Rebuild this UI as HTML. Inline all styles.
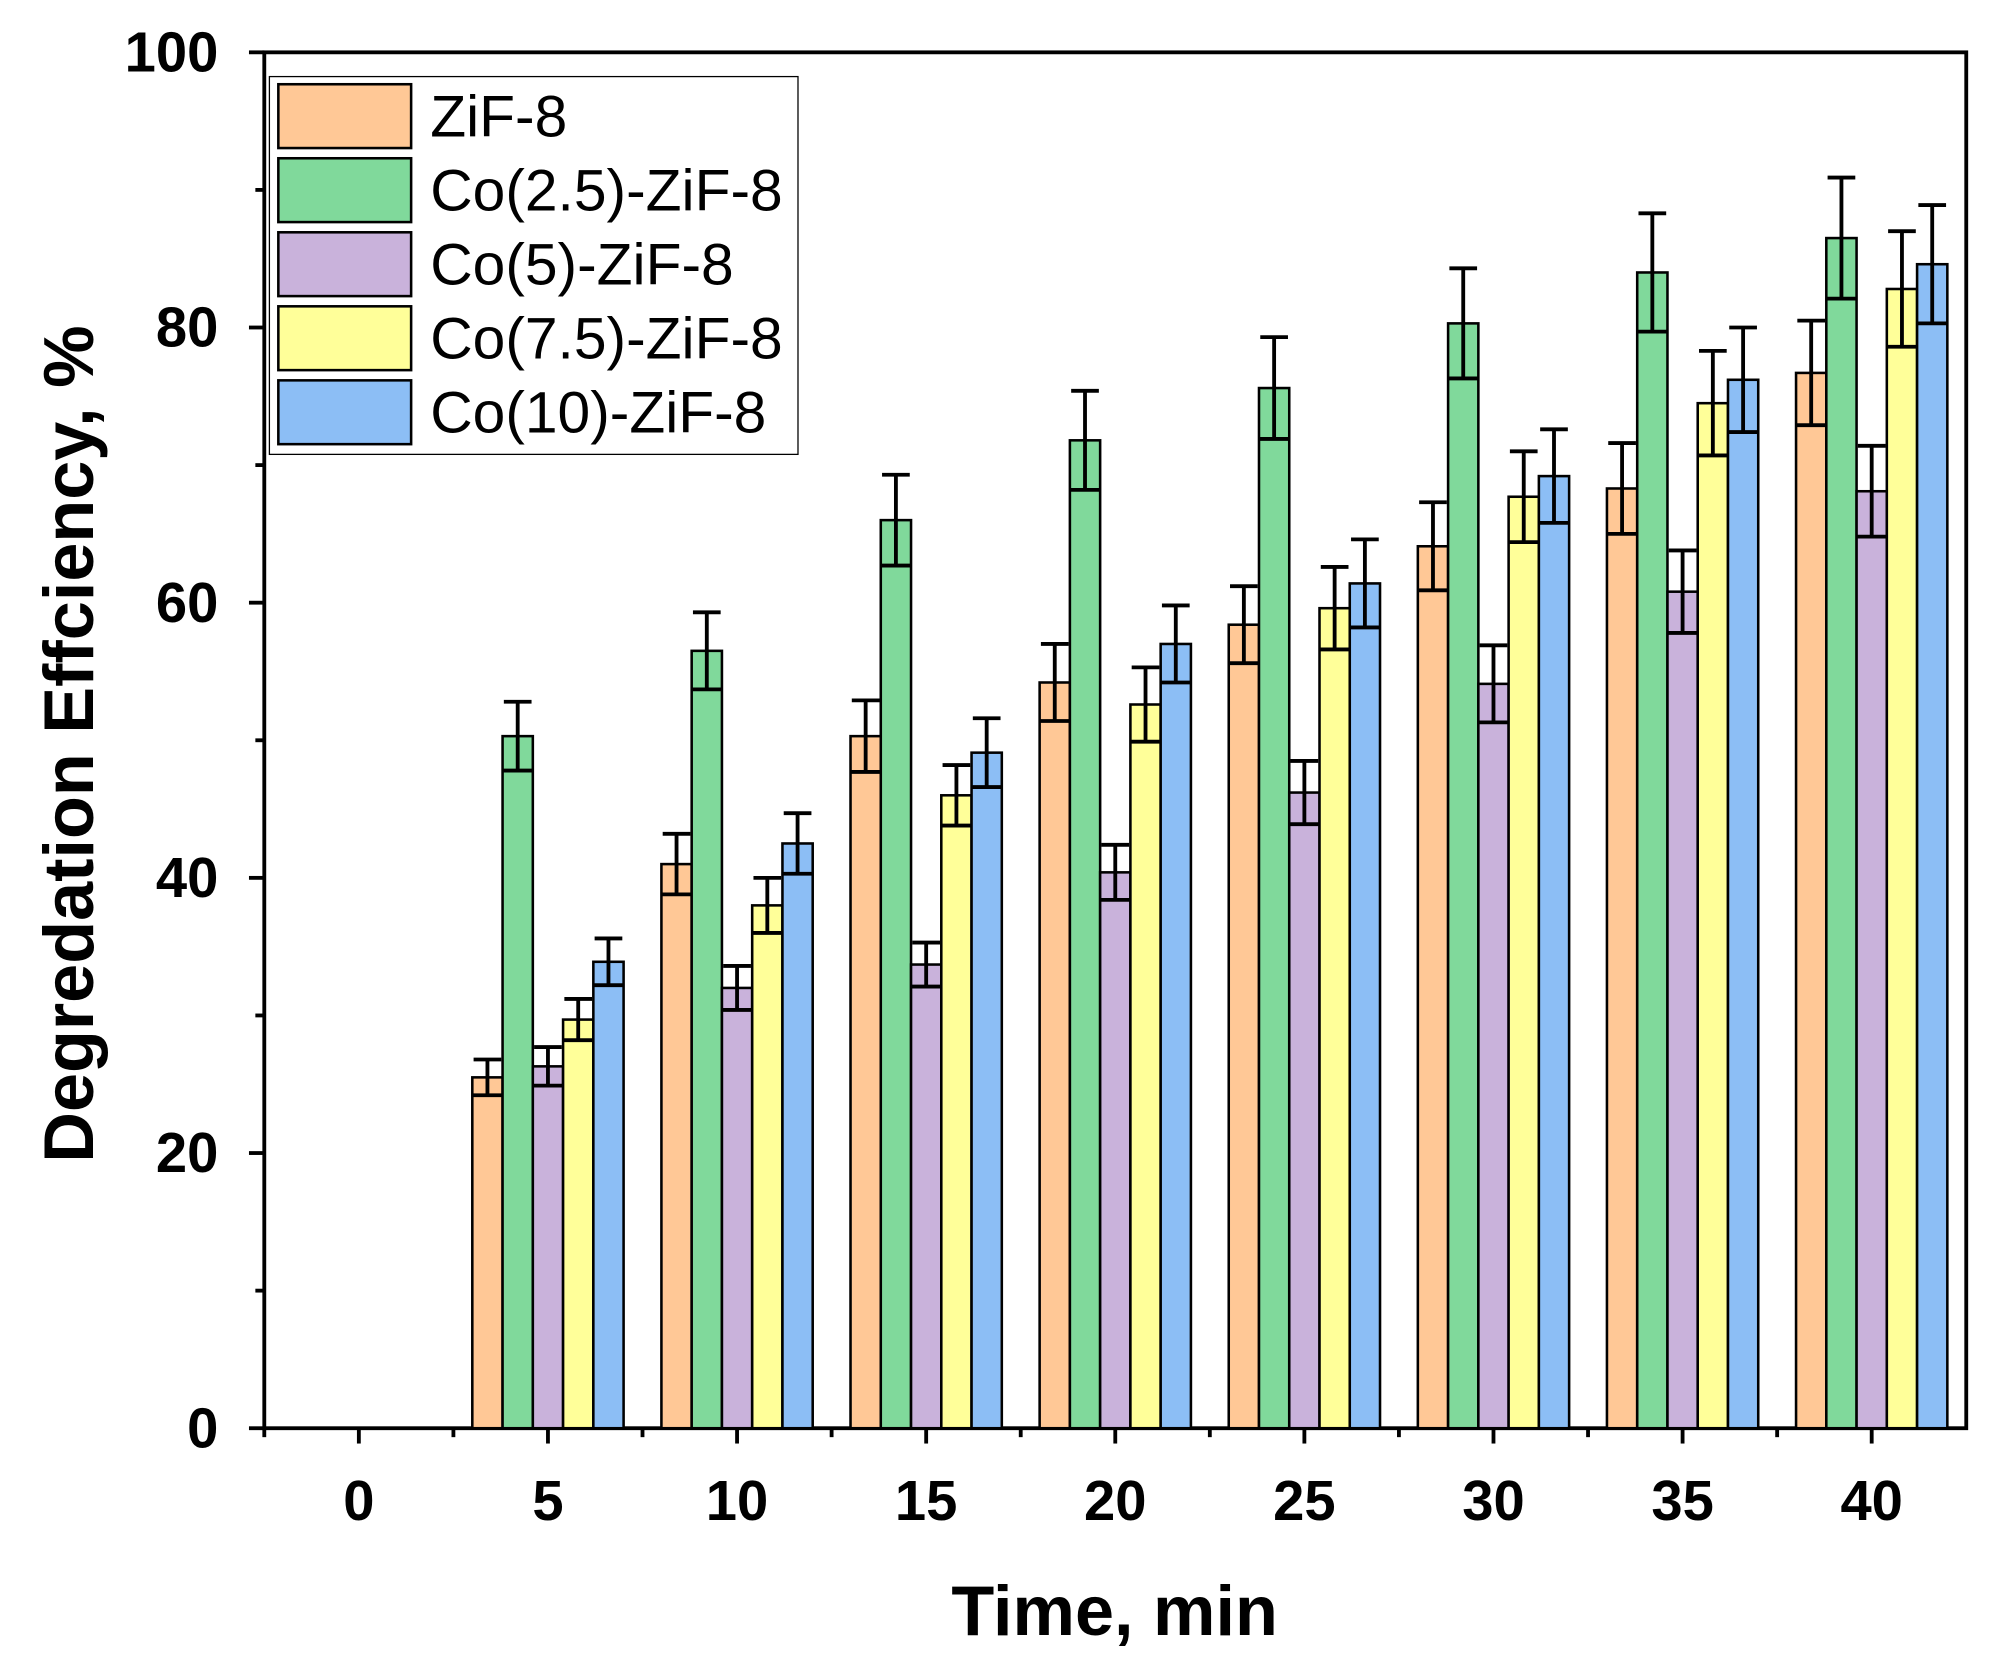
<!DOCTYPE html>
<html><head><meta charset="utf-8"><style>
html,body{margin:0;padding:0;background:#fff;}
svg{display:block;}
text{font-family:"Liberation Sans",Arial,sans-serif;}
</style></head><body>
<svg id="chart" width="2002" height="1672" viewBox="0 0 1568 1310" preserveAspectRatio="none" xmlns="http://www.w3.org/2000/svg">
<g id="axes"></g><g id="bars"></g><g id="legend"></g>
</svg>
<script>
const categories = [5, 10, 15, 20, 25, 30, 35, 40];
const seriesNames = ["ZiF-8", "Co(2.5)-ZiF-8", "Co(5)-ZiF-8", "Co(7.5)-ZiF-8", "Co(10)-ZiF-8"];
const zif8 = [25.5, 41, 50.3, 54.2, 58.4, 64.1, 68.3, 76.7];
const co25 = [50.3, 56.5, 66, 71.8, 75.6, 80.3, 84, 86.5];
const co5 = [26.3, 32, 33.7, 40.4, 46.2, 54.1, 60.8, 68.1];
const co75 = [29.7, 38, 46, 52.6, 59.6, 67.7, 74.5, 82.8];
const co10 = [33.9, 42.5, 49.1, 57, 61.4, 69.2, 76.2, 84.6];
const errZif8 = [1.3, 2.2, 2.6, 2.8, 2.8, 3.2, 3.3, 3.8];
const errCo25 = [2.5, 2.8, 3.3, 3.6, 3.7, 4.0, 4.3, 4.4];
const errCo5 = [1.4, 1.6, 1.6, 2.0, 2.3, 2.8, 3.0, 3.3];
const errCo75 = [1.5, 2.0, 2.2, 2.7, 3.0, 3.3, 3.8, 4.2];
const errCo10 = [1.7, 2.2, 2.5, 2.8, 3.2, 3.4, 3.8, 4.3];
const xTicks = [0, 5, 10, 15, 20, 25, 30, 35, 40];
const yTicks = [0, 20, 40, 60, 80, 100];

const series = [zif8, co25, co5, co75, co10];
const errs = [errZif8, errCo25, errCo5, errCo75, errCo10];
const colors = ["#FFC896", "#80D99B", "#C9B2DB", "#FFFF99", "#8CBEF5"];
const L=207,R=1540,T=41,B=1119;
const xMin=-2.5,xMax=42.5;
const X=v=>L+(v-xMin)/(xMax-xMin)*(R-L);
const Y=v=>B-(v/100)*(B-T);
const NS="http://www.w3.org/2000/svg";
function mk(tag,attrs,parent,txt){const e=document.createElementNS(NS,tag);for(const k in attrs)e.setAttribute(k,attrs[k]);if(txt!==undefined)e.textContent=txt;parent.appendChild(e);return e;}
const axes=document.getElementById('axes'),bars=document.getElementById('bars'),leg=document.getElementById('legend');

const frame=mk('rect',{x:L,y:T,width:R-L,height:B-T,fill:'none',stroke:'#000','stroke-width':3},axes);


xTicks.forEach(t=>{
  const x=X(t);
  const tk=mk('line',{x1:x,x2:x,y1:B,y2:B+12,stroke:'#000','stroke-width':3},axes);
  
  
  const m=mk('line',{x1:X(t-2.5),x2:X(t-2.5),y1:B,y2:B+7,stroke:'#000','stroke-width':3},axes);
  
  
  const lb=mk('text',{x:x,y:B+72,'text-anchor':'middle','font-size':44,'font-weight':'bold'},axes,String(t));
  
  
});
yTicks.forEach(t=>{
  const y=Y(t);
  const tk=mk('line',{x1:L-12,x2:L,y1:y,y2:y,stroke:'#000','stroke-width':3},axes);
  
  
  if(t<100){const m=mk('line',{x1:L-7,x2:L,y1:Y(t+10),y2:Y(t+10),stroke:'#000','stroke-width':3},axes);
  
  }
  const lb=mk('text',{x:L-36,y:y+15,'text-anchor':'end','font-size':44,'font-weight':'bold'},axes,String(t));
  
  
});
const xt=mk('text',{x:873,y:1281,'text-anchor':'middle','font-size':55,'font-weight':'bold'},axes,'Time, min');


const yt=mk('text',{x:0,y:0,transform:'translate(73,583) rotate(-90)','text-anchor':'middle','font-size':55,'font-weight':'bold'},axes,'Degredation Effciency, %');



const step=X(5)-X(0), bw=step*0.8/5;
categories.forEach((c,i)=>{
  series.forEach((s,j)=>{
    const x0=X(c)-step*0.4+j*bw, v=s[i], e=errs[j][i], cx=x0+bw/2;
    const r=mk('rect',{x:x0,y:Y(v),width:bw,height:B-Y(v),fill:colors[j],stroke:'#000','stroke-width':2},bars);
    
    
    const el=mk('path',{d:`M${cx} ${Y(v+e)}V${Y(v-e)}M${cx-bw/2+1} ${Y(v+e)}H${cx+bw/2-1}M${x0} ${Y(v-e)}H${x0+bw}`,stroke:'#000','stroke-width':3,fill:'none'},bars);
    
    
  });
});

const lb=mk('rect',{x:211,y:60,width:414,height:296,fill:'#fff',stroke:'#000','stroke-width':1},leg);


seriesNames.forEach((n,j)=>{
  const y=66+j*58;
  const sw=mk('rect',{x:218,y:y,width:104,height:50,fill:colors[j],stroke:'#000','stroke-width':2},leg);
  
  
  const tx=mk('text',{x:337,y:y+41,'font-size':46},leg,n);
  
  
});
</script>
</body></html>
